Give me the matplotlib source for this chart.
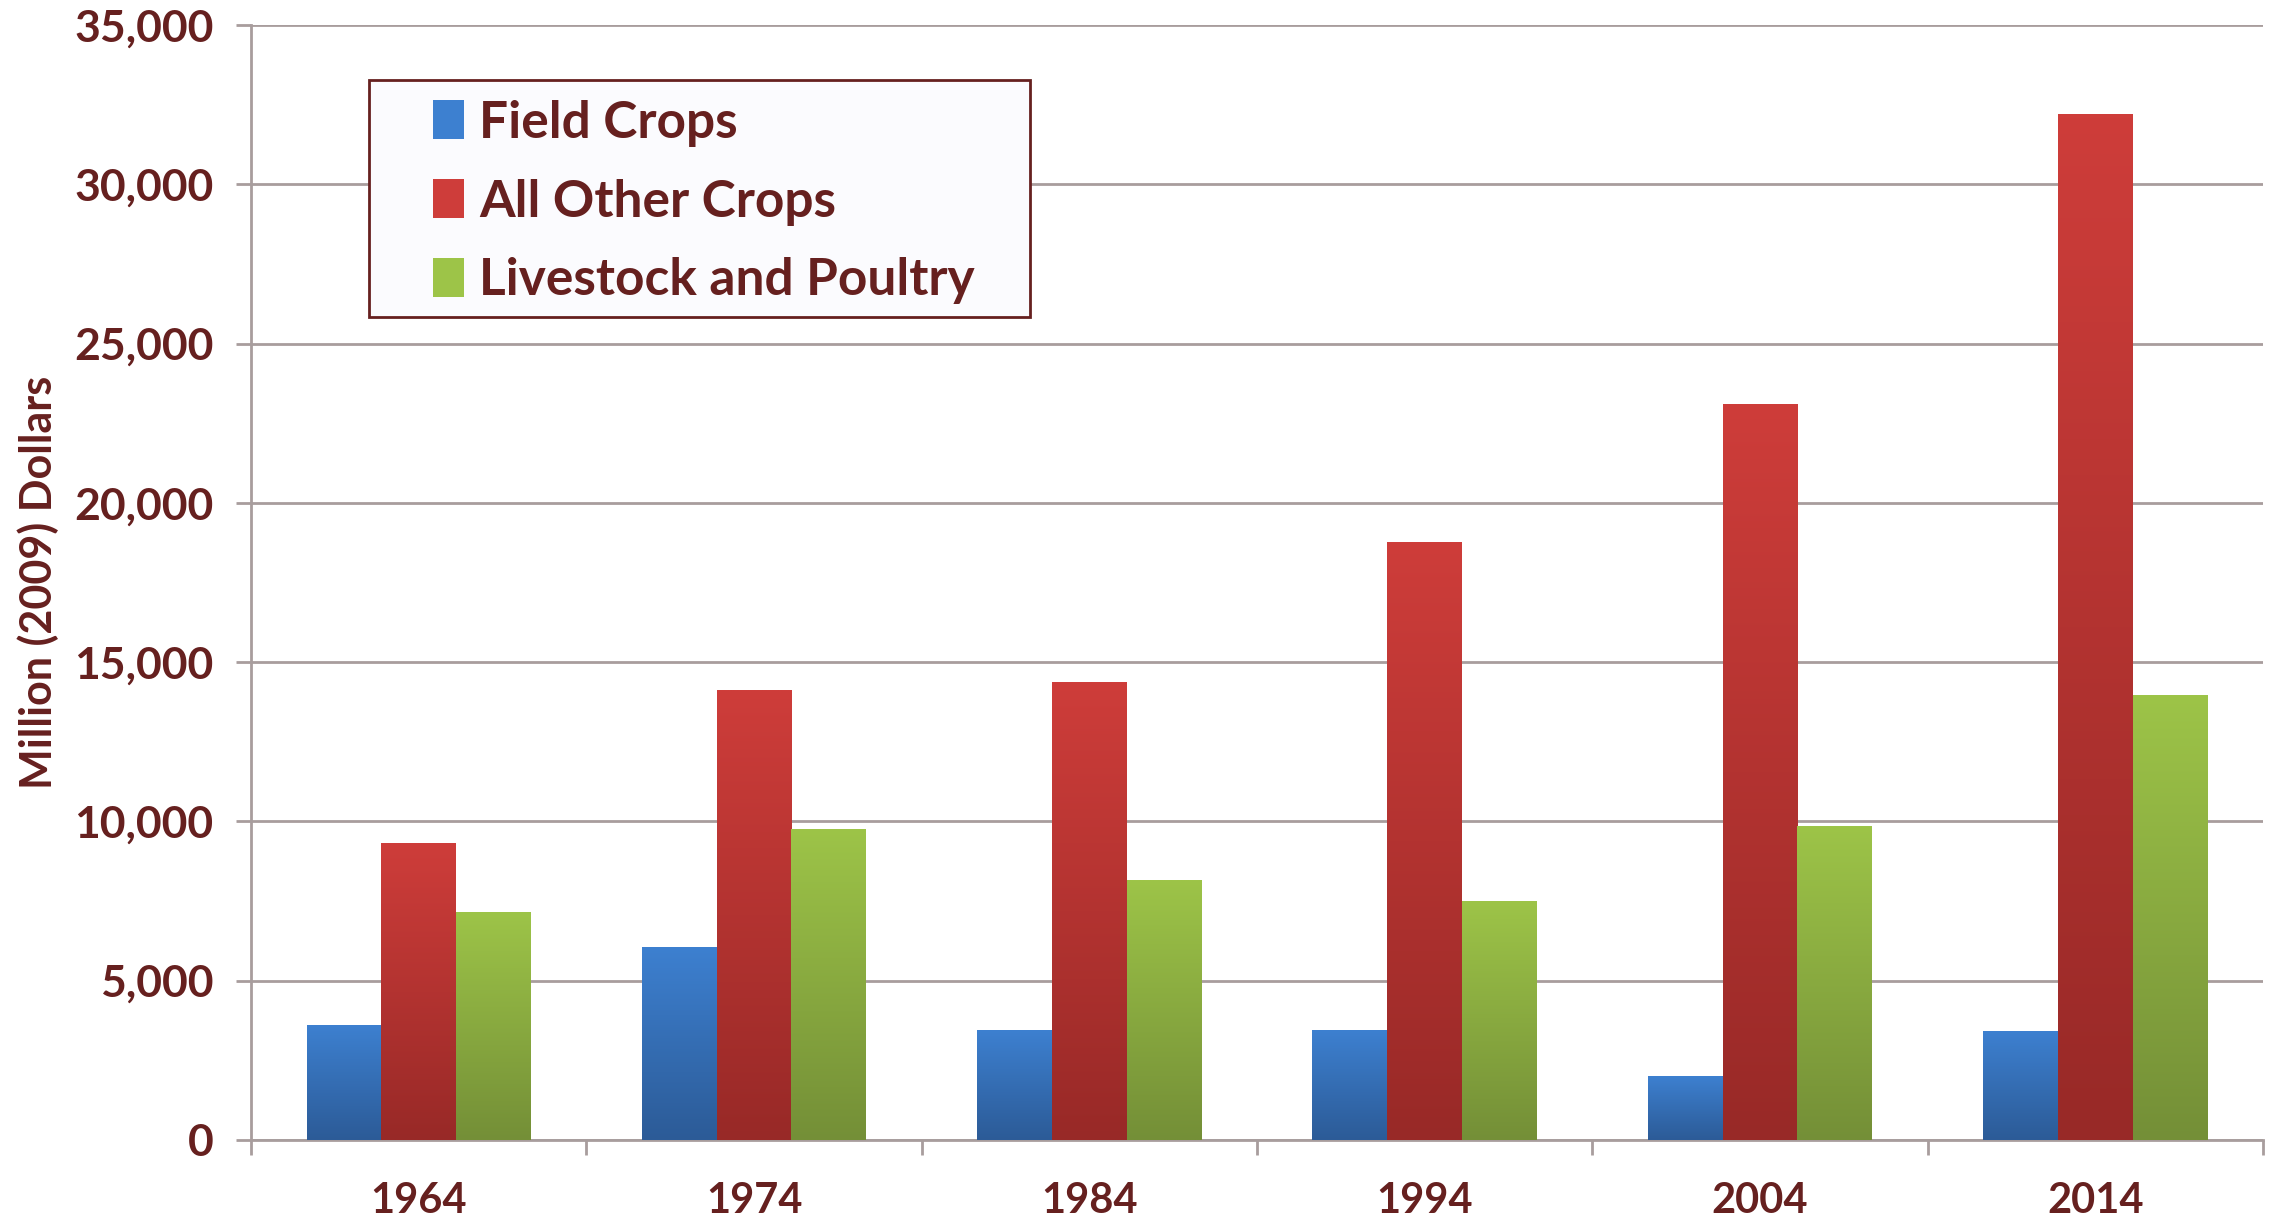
import matplotlib
matplotlib.use("Agg")
import matplotlib.pyplot as plt
from matplotlib.colors import LinearSegmentedColormap
from matplotlib.patches import Patch, Rectangle
import numpy as np

years = ["1964", "1974", "1984", "1994", "2004", "2014"]
series = ["Field Crops", "All Other Crops", "Livestock and Poultry"]
field_crops = [3600, 6050, 3450, 3450, 2000, 3400]
other_crops = [9300, 14100, 14350, 18750, 23100, 32200]
livestock = [7150, 9750, 8150, 7500, 9850, 13950]

# (bottom colour, top colour) for the vertical gradient on each bar
grads = [("#2c5b97", "#3d80d0"), ("#982927", "#ce3d3a"), ("#748f37", "#9dc448")]
text_col = "#66201f"
grid_col = "#a89d9d"

plt.rcParams["font.family"] = ["Lato", "DejaVu Sans"]
plt.rcParams["font.weight"] = "bold"

fig = plt.figure(figsize=(22.78, 12.23), dpi=100)
ax = fig.add_axes([0.1102, 0.0679, 0.8832, 0.9117])

x = np.arange(len(years))
w = 0.223
grad = np.linspace(0, 1, 256).reshape(-1, 1)
for i, vals in enumerate([field_crops, other_crops, livestock]):
    cmap = LinearSegmentedColormap.from_list("g%d" % i, grads[i])
    bars = ax.bar(x + (i - 1) * w, vals, w, color="none", zorder=3)
    for b in bars:
        bx, by = b.get_x(), b.get_y()
        ax.imshow(grad, cmap=cmap, origin="lower", aspect="auto", zorder=3,
                  extent=[bx, bx + b.get_width(), by, by + b.get_height()])

ax.set_xlim(-0.5, len(years) - 0.5)
ax.set_ylim(0, 35000)
ax.set_yticks(np.arange(0, 35001, 5000))
ax.set_yticklabels(["{:,}".format(v) for v in range(0, 35001, 5000)])
ax.yaxis.grid(True, color=grid_col, linewidth=2, zorder=0)
ax.set_axisbelow(True)

ax.set_xticks(np.arange(-0.5, len(years)), minor=False)
ax.set_xticklabels([])
ax.set_xticks(x, minor=True)
ax.set_xticklabels(years, minor=True)
ax.tick_params(axis="x", which="major", length=11, width=2, color=grid_col)
ax.tick_params(axis="x", which="minor", length=0, pad=30, labelsize=30, labelcolor=text_col)
ax.tick_params(axis="y", length=11, width=2, color=grid_col, labelsize=32,
               labelcolor=text_col, pad=16)

for s in ["top", "right"]:
    ax.spines[s].set_visible(False)
for s in ["left", "bottom"]:
    ax.spines[s].set_color(grid_col)
    ax.spines[s].set_linewidth(2)

ax.set_ylabel("Million (2009) Dollars", fontsize=31, fontweight="bold",
              color=text_col, labelpad=11)

# legend frame drawn separately so the padding can match
ax.add_patch(Rectangle((0.0586, 0.738), 0.3286, 0.2127, transform=ax.transAxes,
                       facecolor="#fbfbfe", edgecolor=text_col, linewidth=2, zorder=5))
handles = [Patch(facecolor=grads[i][1], edgecolor="none") for i in range(3)]
leg = ax.legend(handles, series, loc="center left", bbox_to_anchor=(0.0905, 0.8412),
                borderaxespad=0, borderpad=0, fontsize=37, frameon=False,
                handlelength=0.6, handleheight=0.8, handletextpad=0.3,
                labelspacing=0.62, labelcolor=text_col)
leg.set_zorder(6)

fig.savefig("out.png", dpi=100)
